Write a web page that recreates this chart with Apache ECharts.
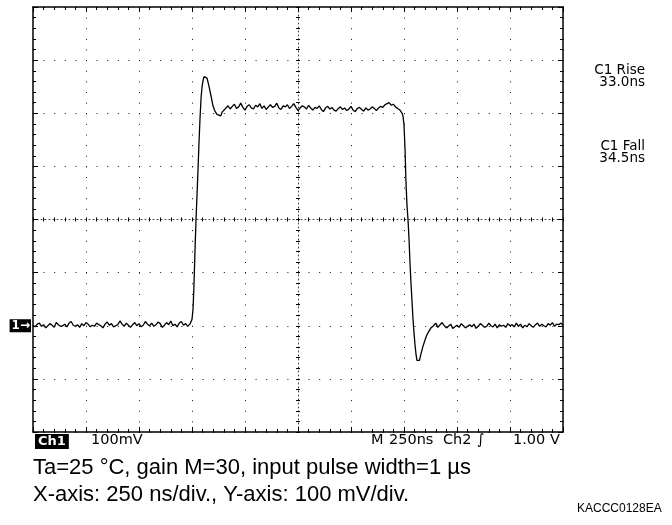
<!DOCTYPE html>
<html><head><meta charset="utf-8">
<script src="https://cdn.jsdelivr.net/npm/echarts@6/dist/echarts.min.js"></script>
<style>html,body{margin:0;padding:0;background:#fff}#c{width:672px;height:525px}</style>
</head><body><div id="c"></div>
<script>
// Time in ns, amplitude in mV (Ch1 ground = 0 mV)
const baselineBefore = [[0,1],[10,-2],[20,3],[30,5],[40,-1],[50,2],[60,-4],[70,0],[80,4],[90,1],[100,-3],[110,6],[120,2],[130,-1],[140,0],[150,3],[160,-2],[170,5],[180,8],[190,1],[200,-1],[210,2],[220,-3],[230,4],[240,0],[250,6],[260,3],[270,-2],[280,1],[290,-1],[300,5],[310,2],[320,0],[330,-4],[340,3],[350,7],[360,1],[370,4],[380,-2],[390,0],[400,2],[410,9],[420,3],[430,-1],[440,5],[450,1],[460,-3],[470,2],[480,6],[490,0],[500,4],[510,-2],[520,1],[530,8],[540,3],[550,0],[560,5],[570,-1],[580,2],[590,7],[600,4],[610,-3],[620,1],[630,6],[640,2],[650,9],[660,0],[670,3],[680,-2],[690,5],[700,8],[710,1],[720,4],[730,-1],[740,3]];
const risingEdge = [[746,2],[750,12],[755,32],[759,72],[764,140],[769,200],[774,250],[779,300],[783,345],[788,392],[793,430],[798,452],[803,463],[807,469],[814,472],[821,466],[830,451],[840,432],[849,414],[858,404],[868,398],[877,400],[885,395],[892,402],[901,406]];
const plateau = [[910,410],[920,414],[930,408],[940,413],[950,417],[960,409],[970,412],[980,419],[990,411],[1000,406],[1010,413],[1020,416],[1030,410],[1040,408],[1050,415],[1060,412],[1070,418],[1080,409],[1090,414],[1100,407],[1110,412],[1120,416],[1130,411],[1140,413],[1150,419],[1160,410],[1170,407],[1180,414],[1190,412],[1200,416],[1210,409],[1220,413],[1230,418],[1240,411],[1250,405],[1260,410],[1270,414],[1280,412],[1290,408],[1300,415],[1310,410],[1320,406],[1330,411],[1340,409],[1350,414],[1360,407],[1370,403],[1380,410],[1390,413],[1400,408],[1410,411],[1420,406],[1430,404],[1440,409],[1450,412],[1460,407],[1470,410],[1480,405],[1490,408],[1500,413],[1510,406],[1520,403],[1530,409],[1540,411],[1550,407],[1560,404],[1570,410],[1580,406],[1590,408],[1600,412],[1610,409],[1620,405],[1630,410],[1640,413],[1650,411],[1660,416],[1670,418],[1680,420],[1690,415],[1700,417],[1710,412],[1720,409]];
const fallingEdge = [[1731,406],[1741,400],[1745,395],[1750,378],[1755,331],[1759,274],[1764,227],[1769,199],[1774,161],[1778,120],[1783,80],[1788,45],[1792,15],[1797,-12],[1802,-36],[1807,-55],[1811,-65],[1816,-68],[1823,-65],[1830,-53],[1840,-38],[1849,-27],[1858,-17],[1868,-10],[1877,-4],[1887,-1]];
const baselineAfter = [[1900,5],[1910,-3],[1920,2],[1930,6],[1940,0],[1950,-4],[1960,-1],[1970,3],[1980,-5],[1990,-2],[2000,1],[2010,-3],[2020,4],[2030,0],[2040,-4],[2050,-1],[2060,2],[2070,-2],[2080,3],[2090,-5],[2100,-1],[2110,4],[2120,1],[2130,-3],[2140,-1],[2150,5],[2160,0],[2170,-2],[2180,3],[2190,-4],[2200,2],[2210,-1],[2220,1],[2230,-3],[2240,4],[2250,0],[2260,2],[2270,-2],[2280,5],[2290,-1],[2300,3],[2310,-4],[2320,1],[2330,-2],[2340,4],[2350,0],[2360,-3],[2370,2],[2380,5],[2390,-1],[2400,3],[2410,0],[2420,-2],[2430,4],[2440,1],[2450,6],[2460,-1],[2470,3],[2480,2],[2490,5],[2500,1]];
const trace = [].concat(baselineBefore, risingEdge, plateau, fallingEdge, baselineAfter);

const timeRangeNs = [0, 2500];      // 10 div x 250 ns
const timeDivNs = 250;
const voltRangeMv = [-200, 600];    // 8 div x 100 mV
const voltDivMv = 100;
const centerTimeRange = [-1250, 1250];
const centerVoltRange = [-400, 400];

const measurements = [['C1 Rise', '33.0ns'], ['C1 Fall', '34.5ns']];
const scopeBottom = [['100mV', 91], ['M', 371], ['250ns', 389], ['Ch2', 443], ['∫', 477], ['1.00 V', 513]];
const captionLines = ['Ta=25 °C, gain M=30, input pulse width=1 µs', 'X-axis: 250 ns/div., Y-axis: 100 mV/div.'];
const figureCode = 'KACCC0128EA';

const INK = '#000';
const DOT = '#111';
const scopeFont = '"DejaVu Sans", sans-serif';
const capFont = '"Liberation Sans", Arial, sans-serif';

function edgeAxis(extra) {
  return Object.assign({
    type: 'value',
    axisLine: { show: true, onZero: false, lineStyle: { color: INK, width: 1.5 } },
    axisTick: { show: true, inside: true, length: 5, lineStyle: { color: INK, width: 1 } },
    minorTick: { show: true, splitNumber: 5, length: 3, lineStyle: { color: INK, width: 1 } },
    axisLabel: { show: false },
    splitLine: { show: false }
  }, extra);
}
function centerAxis(extra, inside) {
  return Object.assign({
    type: 'value',
    axisLine: { show: inside, onZero: true, onZeroAxisIndex: 2, lineStyle: { color: '#444', width: 1, type: [1, 3] } },
    axisTick: { show: true, inside: inside, length: 2, lineStyle: { color: INK, width: 1 } },
    minorTick: { show: true, splitNumber: 5, length: 2, lineStyle: { color: INK, width: 1 } },
    axisLabel: { show: false },
    splitLine: { show: false }
  }, extra);
}

const chart = echarts.init(document.getElementById('c'), null, { renderer: 'canvas' });
const graphics = [];
measurements.forEach((m, i) => {
  const y0 = i === 0 ? 70 : 146;
  graphics.push({ type: 'text', x: 645, y: y0, style: { text: m[0], font: '13.5px ' + scopeFont, fill: INK, align: 'right', verticalAlign: 'middle' } });
  graphics.push({ type: 'text', x: 645, y: y0 + 12.5, style: { text: m[1], font: '13.5px ' + scopeFont, fill: INK, align: 'right', verticalAlign: 'middle' } });
});
graphics.push({ type: 'text', left: 35, top: 434, style: { text: 'Ch1', font: 'bold 13px ' + scopeFont, fill: '#fff', backgroundColor: INK, padding: [1, 3, 1, 3] } });
scopeBottom.forEach(s => graphics.push({ type: 'text', x: s[1], y: 440, style: { text: s[0], font: '14.5px ' + scopeFont, fill: INK, verticalAlign: 'middle' } }));
graphics.push({ type: 'text', x: 33, y: 468, style: { text: captionLines[0], font: '22px ' + capFont, fill: INK, verticalAlign: 'middle' } });
graphics.push({ type: 'text', x: 33, y: 495, style: { text: captionLines[1], font: '22px ' + capFont, fill: INK, verticalAlign: 'middle' } });
graphics.push({ type: 'text', x: 577, y: 509, style: { text: figureCode, font: '12px ' + capFont, fill: INK, verticalAlign: 'middle' } });

chart.setOption({
  animation: false,
  backgroundColor: '#fff',
  grid: { left: 33, top: 7, width: 530, height: 425, containLabel: false },
  xAxis: [
    edgeAxis({ min: timeRangeNs[0], max: timeRangeNs[1], interval: timeDivNs, position: 'bottom',
      splitLine: { show: true, lineStyle: { color: DOT, width: 1, type: [1, 9.625] } } }),
    edgeAxis({ min: timeRangeNs[0], max: timeRangeNs[1], interval: timeDivNs, position: 'top' }),
    centerAxis({ min: centerTimeRange[0], max: centerTimeRange[1], interval: timeDivNs, position: 'bottom' }, true),
    centerAxis({ min: centerTimeRange[0], max: centerTimeRange[1], interval: timeDivNs, position: 'bottom' }, false)
  ],
  yAxis: [
    edgeAxis({ min: voltRangeMv[0], max: voltRangeMv[1], interval: voltDivMv, position: 'left',
      splitLine: { show: true, lineStyle: { color: DOT, width: 1, type: [1, 9.6] } },
      axisLabel: { show: true, margin: 2, formatter: v => v === 0 ? '{m|1→}' : '',
        rich: { m: { color: '#fff', backgroundColor: INK, fontFamily: scopeFont, fontSize: 12, fontWeight: 'bold', padding: [1, 1, 0, 2], lineHeight: 14 } } } }),
    edgeAxis({ min: voltRangeMv[0], max: voltRangeMv[1], interval: voltDivMv, position: 'right' }),
    centerAxis({ min: centerVoltRange[0], max: centerVoltRange[1], interval: voltDivMv, position: 'left' }, true),
    centerAxis({ min: centerVoltRange[0], max: centerVoltRange[1], interval: voltDivMv, position: 'left' }, false)
  ],
  series: [{
    type: 'line', xAxisIndex: 0, yAxisIndex: 0, data: trace,
    showSymbol: false, symbol: 'none', z: 10,
    lineStyle: { color: INK, width: 1.3 }
  }],
  graphic: graphics
});
</script></body></html>
